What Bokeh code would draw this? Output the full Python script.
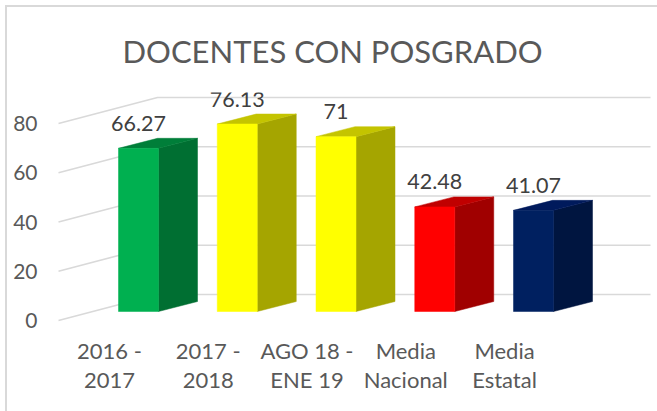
from bokeh.plotting import figure
from bokeh.embed import file_html
from bokeh.resources import INLINE
from bokeh.models import FixedTicker, LinearAxis, InlineStyleSheet, Range1d, ColumnDataSource
from bokeh.core.properties import value

categories_line1 = ["2016 -", "2017 -", "AGO 18 -", "Media", "Media"]
categories_line2 = ["2017", "2018", "ENE 19", "Nacional", "Estatal"]
values = [66.27, 76.13, 71, 42.48, 41.07]
value_labels = ["66.27", "76.13", "71", "42.48", "41.07"]
front_colors = ["#00B050", "#FFFF00", "#FFFF00", "#FF0000", "#002060"]
side_colors = ["#006F32", "#A5A500", "#A5A500", "#A00000", "#001540"]
top_colors = ["#007E39", "#C4C400", "#C4C400", "#C00000", "#001A5C"]
y_ticks = [0, 20, 40, 60, 80]
title_text = "DOCENTES CON POSGRADO"

W, H = 657, 411
LEFT, RIGHT, TOP, BOTTOM = 50, 651, 92, 330
PX_X = 98.75      # px per category
PX_Y = 2.4625     # px per value unit
X0_PX, Y0_PX = 109, 320

FONT = "Lato"
GREY = "#595959"
GRID = "#D9D9D9"

# projection, in data units
wall_dx = 99 / PX_X
wall_dy = 26 / PX_Y
bar_shift = 29 / PX_X
bar_half = 20 / PX_X
bar_base = 9 / PX_Y
depth_dx = 39 / PX_X
depth_dy = 10 / PX_Y

# chart border (left and top edges)
border_css = InlineStyleSheet(css=f"""
:host::before {{ content: ""; position: absolute; left: 5px; top: 5px; width: 2px; height: 406px; background: {GRID}; z-index: 5; }}
:host::after {{ content: ""; position: absolute; left: 5px; top: 5px; width: 652px; height: 2px; background: {GRID}; z-index: 5; }}
""")

p = figure(
    width=W, height=H, output_backend="svg", toolbar_location=None,
    x_range=Range1d((LEFT - X0_PX) / PX_X, (RIGHT - X0_PX) / PX_X),
    y_range=Range1d((Y0_PX - BOTTOM) / PX_Y, (Y0_PX - TOP) / PX_Y),
    min_border_left=LEFT, min_border_right=W - RIGHT,
    min_border_top=TOP, min_border_bottom=H - BOTTOM,
    margin=0,
    x_axis_location=None, y_axis_location=None,
    outline_line_color=None,
    stylesheets=[border_css],
)
p.grid.visible = False
p.background_fill_color = "white"

p.title.text = title_text
p.title.align = "left"
p.title.offset = 72
p.title.text_font = FONT
p.title.text_font_size = "31px"
p.title.text_font_style = "normal"
p.title.text_color = GREY
p.title.standoff = 45

# y axis
ya = LinearAxis(ticker=FixedTicker(ticks=y_ticks), axis_line_color=None,
                major_tick_line_color=None, minor_tick_line_color=None,
                major_label_text_font=FONT, major_label_text_font_size="21px",
                major_label_text_color=GREY, major_label_standoff=7)
p.add_layout(ya, "left")

# x axes, one per text line
xpos = list(range(len(values)))
for labels, standoff in ((categories_line1, 0), (categories_line2, -7)):
    xa = LinearAxis(ticker=FixedTicker(ticks=xpos), axis_line_color=None,
                    major_tick_line_color=None, minor_tick_line_color=None,
                    major_label_text_font=FONT, major_label_text_font_size="22px",
                    major_label_text_color=GREY, major_label_standoff=standoff,
                    major_label_orientation="horizontal",
                    major_label_overrides={i: t for i, t in zip(xpos, labels)})
    p.add_layout(xa, "below")

# wall + floor gridlines
x_start = (58 - X0_PX) / PX_X
x_end = (650 - X0_PX) / PX_X
p.multi_line(
    xs=[[x_start, x_start + wall_dx, x_end] for _ in y_ticks],
    ys=[[v, v + wall_dy, v + wall_dy] for v in y_ticks],
    line_color=GRID, line_width=1.6,
)

# bars
lefts = [i + bar_shift - bar_half for i in xpos]
rights = [i + bar_shift + bar_half for i in xpos]
tops = [bar_base + v for v in values]

p.patches(
    xs=[[r, r + depth_dx, r + depth_dx, r] for r in rights],
    ys=[[bar_base, bar_base + depth_dy, t + depth_dy, t] for t in tops],
    fill_color=side_colors, line_color=side_colors, line_width=0.5,
)
p.patches(
    xs=[[l, r, r + depth_dx, l + depth_dx] for l, r in zip(lefts, rights)],
    ys=[[t, t, t + depth_dy, t + depth_dy] for t in tops],
    fill_color=top_colors, line_color=top_colors, line_width=0.5,
)
p.quad(left=lefts, right=rights, bottom=bar_base, top=tops,
       fill_color=front_colors, line_color=front_colors, line_width=0.5)

# data labels
src = ColumnDataSource(dict(
    x=[i + bar_shift for i in xpos], y=tops, t=value_labels))
p.text("x", "y", text="t", source=src, text_align="center", text_baseline="middle",
       y_offset=-25, text_font=value(FONT), text_font_size="21.5px", text_color="#404040")

open("out.html", "w").write(file_html(p, INLINE))
